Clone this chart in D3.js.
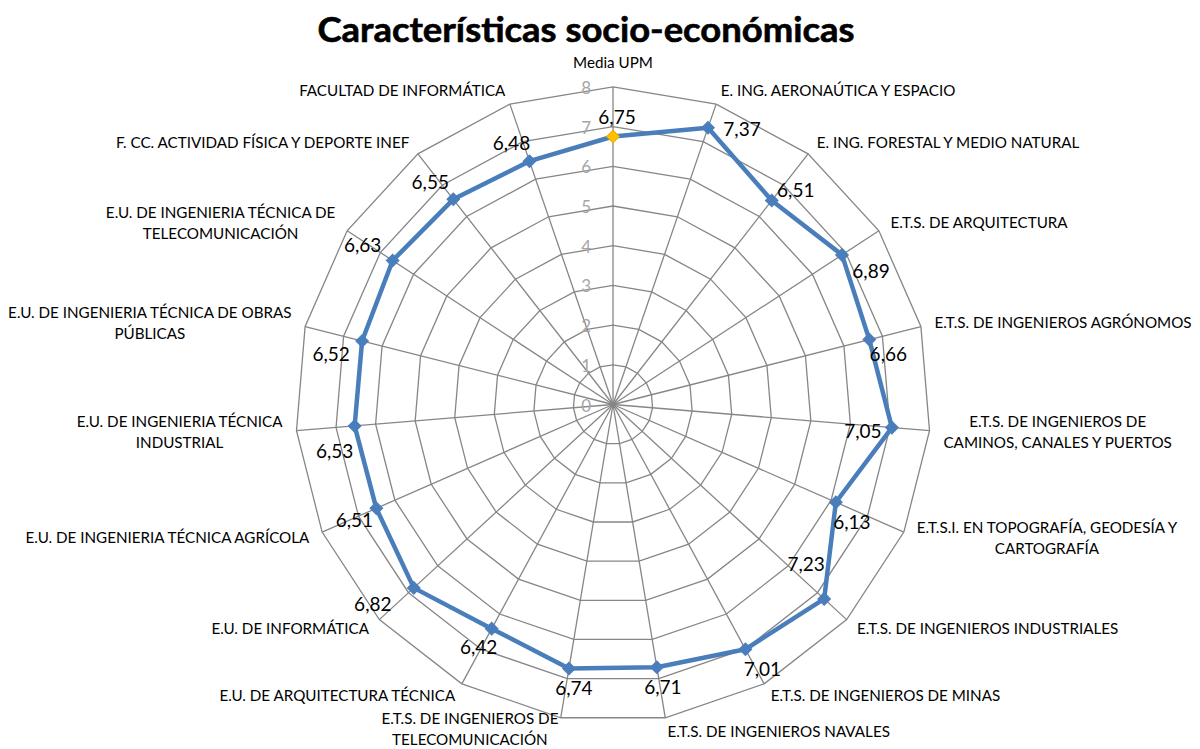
<!DOCTYPE html>
<html>
<head>
<meta charset="utf-8">
<script src="https://cdn.jsdelivr.net/npm/d3@7"></script>
<style>
  body { margin: 0; background: #fff; }
  svg { display: block; }
</style>
</head>
<body>
<svg id="chart"></svg>
<script>
// categories (one array of lines per label, clockwise from top)
const categories = [
  ["Media UPM"],
  ["E.  ING.  AERONAÚTICA Y ESPACIO"],
  ["E.  ING. FORESTAL Y MEDIO NATURAL"],
  ["E.T.S. DE ARQUITECTURA"],
  ["E.T.S. DE INGENIEROS AGRÓNOMOS"],
  ["E.T.S. DE INGENIEROS DE", "CAMINOS, CANALES Y PUERTOS"],
  ["E.T.S.I. EN TOPOGRAFÍA, GEODESÍA Y", "CARTOGRAFÍA"],
  ["E.T.S. DE INGENIEROS INDUSTRIALES"],
  ["E.T.S. DE INGENIEROS DE MINAS"],
  ["E.T.S. DE INGENIEROS NAVALES"],
  ["E.T.S. DE INGENIEROS DE", "TELECOMUNICACIÓN"],
  ["E.U. DE ARQUITECTURA TÉCNICA"],
  ["E.U. DE INFORMÁTICA"],
  ["E.U. DE INGENIERIA TÉCNICA AGRÍCOLA"],
  ["E.U. DE INGENIERIA TÉCNICA", "INDUSTRIAL"],
  ["E.U. DE INGENIERIA TÉCNICA DE OBRAS", "PÚBLICAS"],
  ["E.U. DE INGENIERIA TÉCNICA DE", "TELECOMUNICACIÓN"],
  ["F. CC. ACTIVIDAD FÍSICA Y DEPORTE INEF"],
  ["FACULTAD DE INFORMÁTICA"]
];
const values = [6.75, 7.37, 6.51, 6.89, 6.66, 7.05, 6.13, 7.23, 7.01, 6.71,
                6.74, 6.42, 6.82, 6.51, 6.53, 6.52, 6.63, 6.55, 6.48];
const ticks = [0, 1, 2, 3, 4, 5, 6, 7, 8];
const title = "Características socio-económicas";

// where Excel put each value label, relative to its marker
const labelNudge = [[4,-19],[34,1],[24,-10],[29,16],[19,15],[-29,4],[16,20],[-18,-35],[17,20],[6,20],
                    [5,20],[-13,19],[-41,16],[-22,12],[-20,25],[-31,13],[-30,-15],[-23,-17],[-18,-18]];

const width = 1200, height = 749;
const cx = 613, cy = 404.5, R = 317.6;
const font = "Lato, 'Open Sans', sans-serif";

const svg = d3.select("#chart").attr("width", width).attr("height", height);

const r = d3.scaleLinear().domain([0, 8]).range([0, R]);
const angle = d3.scaleLinear().domain([0, categories.length]).range([0, 2 * Math.PI]);
const pt = (i, v) => [cx + r(v) * Math.sin(angle(i)), cy - r(v) * Math.cos(angle(i))];

// title
svg.append("text")
    .attr("x", 586).attr("y", 42)
    .attr("text-anchor", "middle")
    .attr("font-family", font).attr("font-weight", "bold").attr("font-size", 34)
    .attr("stroke", "#000").attr("stroke-width", 0.6)
    .attr("textLength", 537).attr("lengthAdjust", "spacingAndGlyphs")
    .text(title);

const grid = svg.append("g").attr("stroke", "#868686").attr("stroke-width", 1.3).attr("fill", "none");

// rings
grid.selectAll("polygon").data(ticks.slice(1)).enter().append("polygon")
    .attr("points", t => categories.map((c, i) => pt(i, t).join(",")).join(" "));

// spokes
grid.selectAll("line").data(categories).enter().append("line")
    .attr("x1", cx).attr("y1", cy)
    .attr("x2", (c, i) => pt(i, 8)[0]).attr("y2", (c, i) => pt(i, 8)[1]);

// tick labels
svg.append("g").selectAll("text").data(ticks).enter().append("text")
    .attr("x", cx - 22).attr("y", t => cy - r(t) + 7)
    .attr("text-anchor", "end")
    .attr("font-family", font).attr("font-size", 17).attr("fill", "#a6a6a6")
    .text(t => t);

// category labels
const catG = svg.append("g").attr("font-family", font).attr("font-size", 15.2).attr("fill", "#000");
const lineH = 21;
categories.forEach((lines, i) => {
  const a = angle(i), s = Math.sin(a), c = Math.cos(a);
  const [px, py] = pt(i, 8);
  const g = catG.append("g");
  const texts = lines.map(l => g.append("text").attr("text-anchor", "middle").text(l));
  const w = d3.max(texts, t => t.node().getComputedTextLength());
  let midY = py - 14 * c, x;
  if (Math.abs(s) < 0.01) { x = px; midY = py - 24; }
  else if (s > 0) x = px + 14 * s + w / 2;
  else x = px + 14 * s - w / 2;
  let top = midY - lines.length * lineH / 2;
  // keep the last line inside the picture
  const lastBase = top + lineH * (lines.length - 0.5) + 5.3;
  if (lastBase > height - 4) top -= lastBase - (height - 4);
  texts.forEach((t, k) => t.attr("x", x).attr("y", top + lineH * (k + 0.5) + 5.3));
});

// series line
svg.append("path")
    .datum(values)
    .attr("d", d3.line().x((v, i) => pt(i, v)[0]).y((v, i) => pt(i, v)[1]).curve(d3.curveLinearClosed))
    .attr("fill", "none").attr("stroke", "#4a7ebb").attr("stroke-width", 4.5)
    .attr("stroke-linejoin", "round");

// markers
svg.append("g").selectAll("path").data(values).enter().append("path")
    .attr("d", d3.symbol(d3.symbolSquare, 80))
    .attr("transform", (v, i) => "translate(" + pt(i, v) + ") rotate(45)")
    .attr("fill", (v, i) => i === 0 ? "#ffc000" : "#4a7ebb")
    .attr("stroke", (v, i) => i === 0 ? "#f2a900" : "#4a7ebb").attr("stroke-width", 1);

// value labels
svg.append("g").selectAll("text").data(values).enter().append("text")
    .attr("x", (v, i) => pt(i, v)[0] + labelNudge[i][0])
    .attr("y", (v, i) => pt(i, v)[1] + labelNudge[i][1] + 6.8)
    .attr("text-anchor", "middle")
    .attr("font-family", font).attr("font-size", 19).attr("fill", "#000")
    .text(v => v.toFixed(2).replace(".", ","));
</script>
</body>
</html>
